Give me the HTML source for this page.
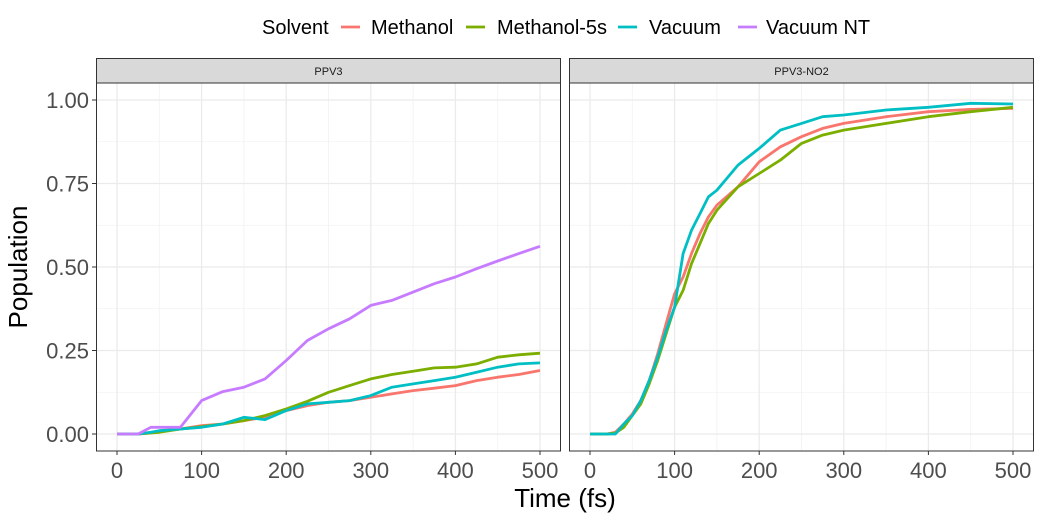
<!DOCTYPE html>
<html><head><meta charset="utf-8"><style>
body{margin:0;background:#fff;width:1042px;height:520px;overflow:hidden;font-family:"Liberation Sans",sans-serif}
</style></head><body>
<svg id="chart" width="1042" height="520" xmlns="http://www.w3.org/2000/svg" font-family="Liberation Sans, sans-serif"></svg>
<script>
const seriesNames = ["Methanol","Methanol-5s","Vacuum","Vacuum NT"];
const seriesColors = ["#F8766D","#7CAE00","#00BFC4","#C77CFF"];
const panels = ["PPV3","PPV3-NO2"];
const xTicks = [0,100,200,300,400,500];
const yTicks = [0,0.25,0.5,0.75,1];
const yTickLabels = ["0.00","0.25","0.50","0.75","1.00"];
const tLeft = [0,25,40,50,75,100,125,150,175,200,225,250,275,300,325,350,375,400,425,450,475,500];
const leftMethanol = [0,0,0.003,0.008,0.015,0.025,0.03,0.04,0.05,0.07,0.085,0.095,0.1,0.11,0.12,0.13,0.137,0.145,0.16,0.17,0.178,0.19];
const leftMethanol5s = [0,0,0.003,0.005,0.015,0.022,0.03,0.04,0.055,0.075,0.098,0.125,0.145,0.165,0.178,0.188,0.198,0.2,0.21,0.23,0.237,0.242];
const leftVacuum = [0,0,0.005,0.01,0.015,0.02,0.03,0.05,0.043,0.07,0.09,0.095,0.1,0.115,0.14,0.15,0.16,0.17,0.185,0.2,0.21,0.213];
const leftVacuumNT = [0,0,0.02,0.02,0.02,0.1,0.127,0.14,0.165,0.22,0.28,0.315,0.345,0.385,0.4,0.425,0.45,0.47,0.495,0.518,0.54,0.562];
const tRight = [0,20,30,40,50,60,70,80,90,100,110,120,130,140,150,175,200,225,250,275,300,350,400,450,500];
const rightMethanol = [0,0,0.005,0.03,0.06,0.1,0.16,0.24,0.33,0.42,0.47,0.54,0.6,0.65,0.685,0.74,0.815,0.86,0.89,0.915,0.93,0.95,0.965,0.972,0.975];
const rightMethanol5s = [0,0,0.003,0.02,0.055,0.09,0.15,0.22,0.3,0.38,0.43,0.51,0.57,0.63,0.67,0.74,0.78,0.82,0.87,0.895,0.91,0.93,0.95,0.965,0.978];
const rightVacuum = [0,0,0,0.03,0.055,0.1,0.16,0.23,0.31,0.38,0.54,0.61,0.66,0.71,0.73,0.805,0.855,0.91,0.93,0.95,0.955,0.97,0.978,0.99,0.988];

const svg = document.getElementById('chart');
const NS = "http://www.w3.org/2000/svg";
function mk(tag, attrs, parent){const e=document.createElementNS(NS,tag);for(const k in attrs)e.setAttribute(k,attrs[k]);(parent||svg).appendChild(e);return e;}
const panelX = [96,569], panelW = 465, plotTop = 83, plotBottom = 451;
const yS = v => 434 - v*334;
const xScale = (p) => (t => panelX[p] + 21 + t*(423/500));

const panelData = [
  {t:tLeft, s:[leftMethanol,leftMethanol5s,leftVacuum,leftVacuumNT]},
  {t:tRight, s:[rightMethanol,rightMethanol5s,rightVacuum,null]}
];

panels.forEach((name,p)=>{
  const x = xScale(p);
  const g = mk('g',{});
  
  
  mk('rect',{x:panelX[p],y:plotTop,width:panelW,height:plotBottom-plotTop,fill:'#fff'},g);
  for(let t=50;t<=450;t+=100){mk('line',{x1:x(t),x2:x(t),y1:plotTop,y2:plotBottom,stroke:'#f2f2f2','stroke-width':0.8},g);}
  for(let v=0.125;v<1.1;v+=0.25){mk('line',{x1:panelX[p],x2:panelX[p]+panelW,y1:yS(v),y2:yS(v),stroke:'#f2f2f2','stroke-width':0.8},g);}
  xTicks.forEach(t=>mk('line',{x1:x(t),x2:x(t),y1:plotTop,y2:plotBottom,stroke:'#ebebeb','stroke-width':1.3},g));
  yTicks.forEach(v=>mk('line',{x1:panelX[p],x2:panelX[p]+panelW,y1:yS(v),y2:yS(v),stroke:'#ebebeb','stroke-width':1.3},g));
  const d = panelData[p];
  d.s.forEach((vals,i)=>{
    if(!vals) return;
    const pts = d.t.map((t,k)=>x(t).toFixed(1)+','+yS(vals[k]).toFixed(1)).join(' ');
    const line = mk('polyline',{points:pts,fill:'none',stroke:seriesColors[i],'stroke-width':2.8,'stroke-linejoin':'round'},g);
    
    
  });
  mk('rect',{x:panelX[p]+0.5,y:plotTop,width:panelW-1,height:plotBottom-plotTop,fill:'none',stroke:'#333','stroke-width':1},g);
  const strip = mk('rect',{x:panelX[p]+0.5,y:58.5,width:panelW-1,height:24.5,fill:'#d9d9d9',stroke:'#333','stroke-width':1},g);
  
  
  const st = mk('text',{x:panelX[p]+panelW/2,y:75,'text-anchor':'middle','font-size':11,fill:'#1a1a1a'},g);
  st.textContent = name;
  xTicks.forEach(t=>{
    mk('line',{x1:x(t),x2:x(t),y1:plotBottom,y2:plotBottom+4,stroke:'#333','stroke-width':1},g);
    const tx = mk('text',{x:x(t),y:478,'text-anchor':'middle','font-size':22,fill:'#4d4d4d'},g);
    
    
    tx.textContent = t;
  });
});
yTicks.forEach((v,i)=>{
  mk('line',{x1:92,x2:96,y1:yS(v),y2:yS(v),stroke:'#333','stroke-width':1});
  const tx = mk('text',{x:89,y:yS(v)+8,'text-anchor':'end','font-size':22,fill:'#4d4d4d'});
  
  
  tx.textContent = yTickLabels[i];
});
const xt = mk('text',{x:565,y:507,'text-anchor':'middle','font-size':26,fill:'#000'});


xt.textContent = 'Time (fs)';
const yt = mk('text',{x:0,y:0,'text-anchor':'middle','font-size':26,fill:'#000',transform:'translate(27,267) rotate(-90)'});


yt.textContent = 'Population';
const lg = mk('g',{});


const lt = mk('text',{x:262,y:34,'font-size':20,fill:'#000'},lg);
lt.textContent = 'Solvent';
const keyX = [341,466,618,738];
const textX = [371,497,649,766];
keyX.forEach((kx,i)=>{
  const e = mk('g',{},lg);
  
  
  mk('line',{x1:kx,x2:kx+19,y1:27,y2:27,stroke:seriesColors[i],'stroke-width':2.8},e);
  const t = mk('text',{x:textX[i],y:34,'font-size':20,fill:'#000'},e);
  t.textContent = seriesNames[i];
});
</script>
</body></html>
